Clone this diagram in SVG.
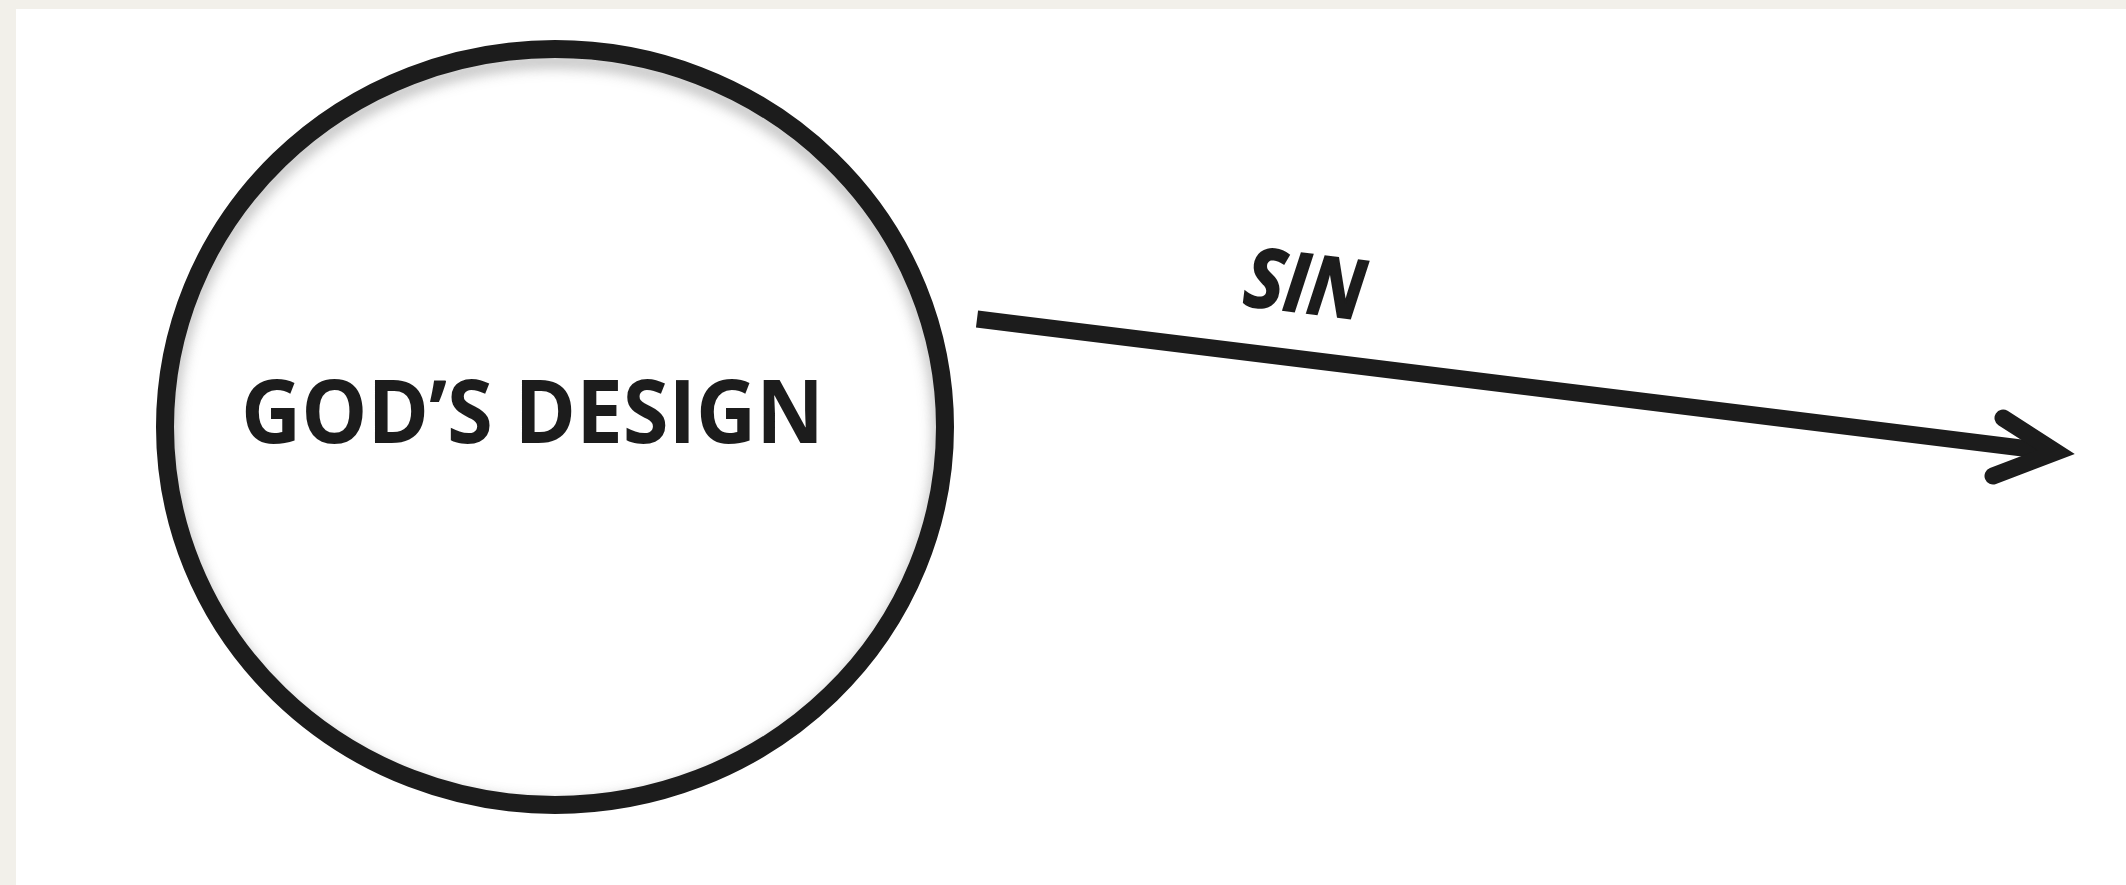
<svg xmlns="http://www.w3.org/2000/svg" width="2126" height="885" viewBox="0 0 2126 885">
  <style>
    .ink { stroke: #1c1c1c; fill: none; }
    .lbl { font-family: "Open Sans", "Liberation Sans", sans-serif; font-weight: bold; fill: #1c1c1c; }
  </style>
  <defs>
    <filter id="blur" x="-10%" y="-10%" width="120%" height="120%">
      <feGaussianBlur stdDeviation="7"/>
    </filter>
    <clipPath id="inside">
      <ellipse cx="555" cy="427" rx="390" ry="378"/>
    </clipPath>
  </defs>
  <rect x="0" y="0" width="2126" height="885" fill="#f2f0ea"/>
  <rect x="16" y="9" width="2110" height="876" fill="#ffffff"/>

  <g id="gods-design">
    <g clip-path="url(#inside)">
      <ellipse cx="555" cy="434" rx="385" ry="373" fill="none" stroke="#9a9a9a" stroke-width="12" filter="url(#blur)" opacity="0.7"/>
    </g>
    <ellipse class="ink" cx="555" cy="427" rx="390" ry="378" stroke-width="18"/>
    <text class="lbl" x="241" y="443" font-size="88" textLength="583" lengthAdjust="spacingAndGlyphs">GOD’S DESIGN</text>
  </g>

  <g id="connectors">
    <line class="ink" x1="977" y1="319" x2="2046" y2="451" stroke-width="17"/>
    <polyline class="ink" points="2003,418 2056,452 1993,476" stroke-width="17" stroke-linecap="round" stroke-linejoin="miter"/>
  </g>

  <g id="sin-label">
    <text class="lbl" x="1242" y="305" font-size="82" font-style="italic" stroke="#1c1c1c" stroke-width="2" textLength="120" lengthAdjust="spacingAndGlyphs" transform="rotate(7 1242 305)">SIN</text>
  </g>
</svg>
